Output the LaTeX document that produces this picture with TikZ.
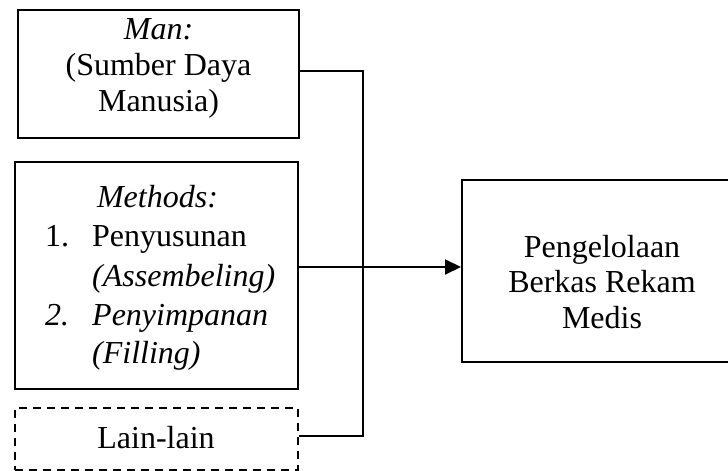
\documentclass[tikz,border=0pt]{standalone}
\usepackage{fontspec}
\setmainfont{Liberation Serif}
\usetikzlibrary{arrows.meta}
\begin{document}
\begin{tikzpicture}[x=1pt,y=-1pt,
  box/.style={draw, line width=2pt, inner sep=0pt},
  txt/.style={font=\fontsize{32}{36}\selectfont, inner sep=0pt},
  conn/.style={line width=2pt}]
\useasboundingbox (0,0) rectangle (728,471);
\clip (0,0) rectangle (728,471);
% boxes
\node[box, minimum width=281pt, minimum height=128pt] (man) at (158.5,74) {};
\node[box, minimum width=283pt, minimum height=227pt] (methods) at (156.5,275.5) {};
\node[box, dash pattern=on 8pt off 6pt, minimum width=283pt, minimum height=62pt] (lain) at (156.5,439) {};
\node[box, minimum width=280pt, minimum height=182pt] (res) at (602,271) {};
% texts
\node[txt, anchor=base] (t1) at (158.5,39) {\textit{Man:}};
\node[txt, anchor=base] (t2) at (158.5,75) {(Sumber Daya};
\node[txt, anchor=base] (t3) at (158.5,111) {Manusia)};
\node[txt, anchor=base] (m0) at (157.5,207) {\textit{Methods:}};
\node[txt, anchor=base west] (m1n) at (45,246) {1.};
\node[txt, anchor=base west] (m1) at (92,246) {Penyusunan};
\node[txt, anchor=base west] (m2) at (92,286) {\textit{(Assembeling)}};
\node[txt, anchor=base west] (m3n) at (45,325) {\textit{2.}};
\node[txt, anchor=base west] (m3) at (92,325) {\textit{Penyimpanan}};
\node[txt, anchor=base west] (m4) at (92,363) {\textit{(Filling)}};
\node[txt, anchor=base] (l1) at (156,448) {Lain-lain};
\node[txt, anchor=base] (r1) at (602,257) {Pengelolaan};
\node[txt, anchor=base] (r2) at (602,292) {Berkas Rekam};
\node[txt, anchor=base] (r3) at (602,328) {Medis};
% connectors
\coordinate (j1) at (363,71);
\coordinate (j2) at (363,436);
\coordinate (a) at (0,267);
\draw[conn] (man.east |- j1) -- (j1) -- (j2) -- (lain.east |- j2);
\draw[conn, -{Triangle[length=16pt,width=15pt]}] (methods.east |- a) -- (res.west |- a);
\end{tikzpicture}
\end{document}
